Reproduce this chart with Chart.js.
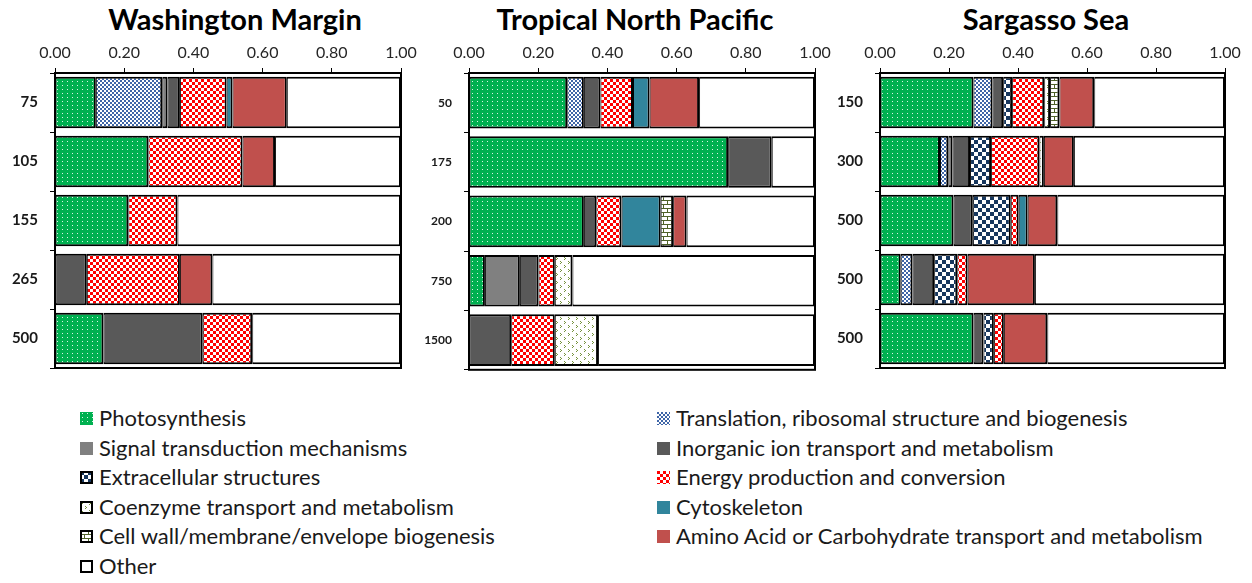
<!DOCTYPE html>
<html>
<head>
<meta charset="utf-8">
<script src="https://cdn.jsdelivr.net/npm/chart.js@4.4.1/dist/chart.umd.min.js"></script>
<style>
  body { margin: 0; background: #fff; }
  #wrap { position: relative; width: 1252px; height: 583px; overflow: hidden; font-family: Lato, "Open Sans", sans-serif; }
  canvas.chart { position: absolute; top: 28px; }
  .title { position: absolute; top: 1px; font: bold 29px Lato, sans-serif; color: #000; text-align: center; white-space: nowrap; }
  .item { position: absolute; height: 26px; line-height: 26px; font-size: 22px; color: #1a1a1a; white-space: nowrap; }
  .item canvas { position: absolute; left: 0; top: 7px; }
  .item span { position: absolute; left: 19px; }
</style>
</head>
<body>
<div id="wrap">
  <div class="title" style="left:35px;width:400px;">Washington Margin</div>
  <div class="title" style="left:435px;width:400px;">Tropical North Pacific</div>
  <div class="title" style="left:846px;width:400px;">Sargasso Sea</div>
  <canvas id="wm" class="chart" width="418" height="361" style="left:0px"></canvas>
  <canvas id="tnp" class="chart" width="418" height="361" style="left:415px"></canvas>
  <canvas id="ss" class="chart" width="420" height="361" style="left:830px"></canvas>
  <div id="legend"></div>
</div>
<script>
const seriesNames = [
  "Photosynthesis",
  "Translation, ribosomal structure and biogenesis",
  "Signal transduction mechanisms",
  "Inorganic ion transport and metabolism",
  "Extracellular structures",
  "Energy production and conversion",
  "Coenzyme transport and metabolism",
  "Cytoskeleton",
  "Cell wall/membrane/envelope biogenesis",
  "Amino Acid or Carbohydrate transport and metabolism",
  "Other"
];

// depth categories
const wmDepths = ["75", "105", "155", "265", "500"];
const tnpDepths = ["50", "175", "200", "750", "1500"];
const ssDepths = ["150", "300", "500", "500", "500"];

// one row per series (same order as seriesNames), one value per depth
const wmValues = [
  [0.118, 0.270, 0.212, 0, 0.140],
  [0.192, 0, 0, 0, 0],
  [0.015, 0, 0, 0, 0],
  [0.036, 0, 0, 0.092, 0.287],
  [0, 0, 0, 0, 0],
  [0.135, 0.272, 0.142, 0.269, 0.143],
  [0, 0, 0, 0, 0],
  [0.017, 0, 0, 0, 0],
  [0, 0, 0, 0, 0],
  [0.157, 0.094, 0, 0.094, 0],
  [0.330, 0.364, 0.646, 0.545, 0.430]
];
const tnpValues = [
  [0.284, 0.749, 0.332, 0.046, 0],
  [0.048, 0, 0, 0, 0],
  [0, 0, 0, 0.101, 0],
  [0.048, 0.126, 0.036, 0.054, 0.122],
  [0, 0, 0, 0, 0],
  [0.094, 0, 0.073, 0.047, 0.126],
  [0, 0, 0, 0.051, 0.125],
  [0.048, 0, 0.113, 0, 0],
  [0, 0, 0.036, 0, 0],
  [0.143, 0, 0.039, 0, 0],
  [0.335, 0.125, 0.371, 0.701, 0.627]
];
const ssValues = [
  [0.271, 0.174, 0.213, 0.060, 0.271],
  [0.055, 0.024, 0, 0.034, 0],
  [0, 0.012, 0, 0, 0],
  [0.031, 0.051, 0.056, 0.063, 0.029],
  [0.026, 0.061, 0.110, 0.067, 0.030],
  [0.093, 0.140, 0.023, 0.030, 0.029],
  [0.017, 0.013, 0, 0, 0],
  [0, 0, 0.026, 0, 0],
  [0.027, 0, 0, 0, 0],
  [0.101, 0.087, 0.086, 0.195, 0.126],
  [0.379, 0.438, 0.486, 0.551, 0.515]
];

// excel-ish pattern fills
function pattern(w, h, bg, draw) {
  const c = document.createElement("canvas");
  c.width = w; c.height = h;
  const g = c.getContext("2d");
  g.fillStyle = bg;
  g.fillRect(0, 0, w, h);
  if (draw) draw(g);
  return g.createPattern(c, "repeat");
}
const fills = [
  pattern(5, 4, "#00b050", g => { g.fillStyle = "rgba(255,255,255,0.85)"; g.fillRect(2, 1, 1, 1); }),
  pattern(4, 4, "#ffffff", g => { g.fillStyle = "#3f66a8"; g.fillRect(0, 0, 2, 2); g.fillRect(2, 2, 2, 2); }),
  "#808080",
  "#595959",
  pattern(8, 8, "#ffffff", g => { g.fillStyle = "#17375e"; g.fillRect(0, 0, 4, 4); g.fillRect(4, 4, 4, 4); }),
  pattern(6, 6, "#ffffff", g => { g.fillStyle = "#ff0000"; g.fillRect(0, 0, 3, 3); g.fillRect(3, 3, 3, 3); }),
  pattern(8, 8, "#ffffff", g => {
    g.fillStyle = "#76923c";
    g.fillRect(1, 1, 1, 1); g.fillRect(2, 2, 1, 1); g.fillRect(1, 3, 1, 1);
    g.fillRect(5, 5, 1, 1); g.fillRect(6, 6, 1, 1); g.fillRect(5, 7, 1, 1);
  }),
  "#31859c",
  pattern(8, 8, "#ffffff", g => {
    g.fillStyle = "#4f6228";
    g.fillRect(0, 0, 8, 1); g.fillRect(0, 4, 8, 1);
    g.fillRect(0, 0, 1, 4); g.fillRect(4, 4, 1, 4);
  }),
  "#c0504d",
  "#ffffff"
];

const plotBorder = {
  id: "plotBorder",
  afterDraw(chart) {
    const a = chart.chartArea, ctx = chart.ctx;
    ctx.save();
    ctx.strokeStyle = "#000";
    ctx.lineWidth = 2;
    ctx.strokeRect(a.left, a.top, a.right - a.left, a.bottom - a.top);
    ctx.restore();
  }
};

function makeChart(id, labels, values, yWidth, rightPad, labelSize) {
  return new Chart(document.getElementById(id), {
    type: "bar",
    data: {
      labels,
      datasets: seriesNames.map((name, i) => ({
        label: name,
        data: values[i],
        backgroundColor: fills[i],
        borderColor: "#000",
        borderWidth: { top: 2, bottom: 2, left: 1, right: 2 },
        borderSkipped: false,
        barPercentage: 0.87,
        categoryPercentage: 1
      }))
    },
    options: {
      indexAxis: "y",
      responsive: false,
      animation: false,
      layout: { padding: { left: 0, right: rightPad, top: 0, bottom: 5 } },
      plugins: { legend: { display: false }, tooltip: { enabled: false } },
      scales: {
        x: {
          position: "top",
          stacked: true,
          min: 0,
          max: 1,
          afterFit: s => { s.height = 45; s.paddingLeft = 0; s.paddingRight = 0; },
          ticks: {
            stepSize: 0.2,
            padding: 6,
            color: "#262626",
            font: { family: "Lato", size: 16 },
            callback: v => Number(v).toFixed(2)
          },
          grid: { drawOnChartArea: false, tickLength: 5, color: "#000" },
          border: { color: "#000", width: 2 }
        },
        y: {
          stacked: true,
          afterFit: s => { s.width = yWidth; },
          ticks: {
            padding: 12,
            color: "#1a1a1a",
            font: { family: "Lato", size: labelSize, weight: "bold" }
          },
          grid: { drawOnChartArea: false, tickLength: 5, color: "#000" },
          border: { color: "#000", width: 2 }
        }
      }
    },
    plugins: [plotBorder]
  });
}

makeChart("wm", wmDepths, wmValues, 55, 17, 15);
makeChart("tnp", tnpDepths, tnpValues, 54, 18, 12);
makeChart("ss", ssDepths, ssValues, 50, 25, 15);

// shared legend, two columns, read row by row
const boxed = [4, 6, 8, 10];
const legend = document.getElementById("legend");
seriesNames.forEach((name, i) => {
  const col = i % 2, row = Math.floor(i / 2);
  const item = document.createElement("div");
  item.className = "item";
  item.style.left = (col ? 657 : 80) + "px";
  item.style.top = (405 + row * 29.6) + "px";
  const sw = document.createElement("canvas");
  sw.width = 13; sw.height = 13;
  const g = sw.getContext("2d");
  g.fillStyle = fills[i];
  g.fillRect(0, 0, 13, 13);
  if (boxed.includes(i)) {
    g.strokeStyle = "#000";
    g.lineWidth = 2;
    g.strokeRect(1, 1, 11, 11);
  }
  const t = document.createElement("span");
  t.textContent = name;
  item.appendChild(sw);
  item.appendChild(t);
  legend.appendChild(item);
});
</script>
</body>
</html>
